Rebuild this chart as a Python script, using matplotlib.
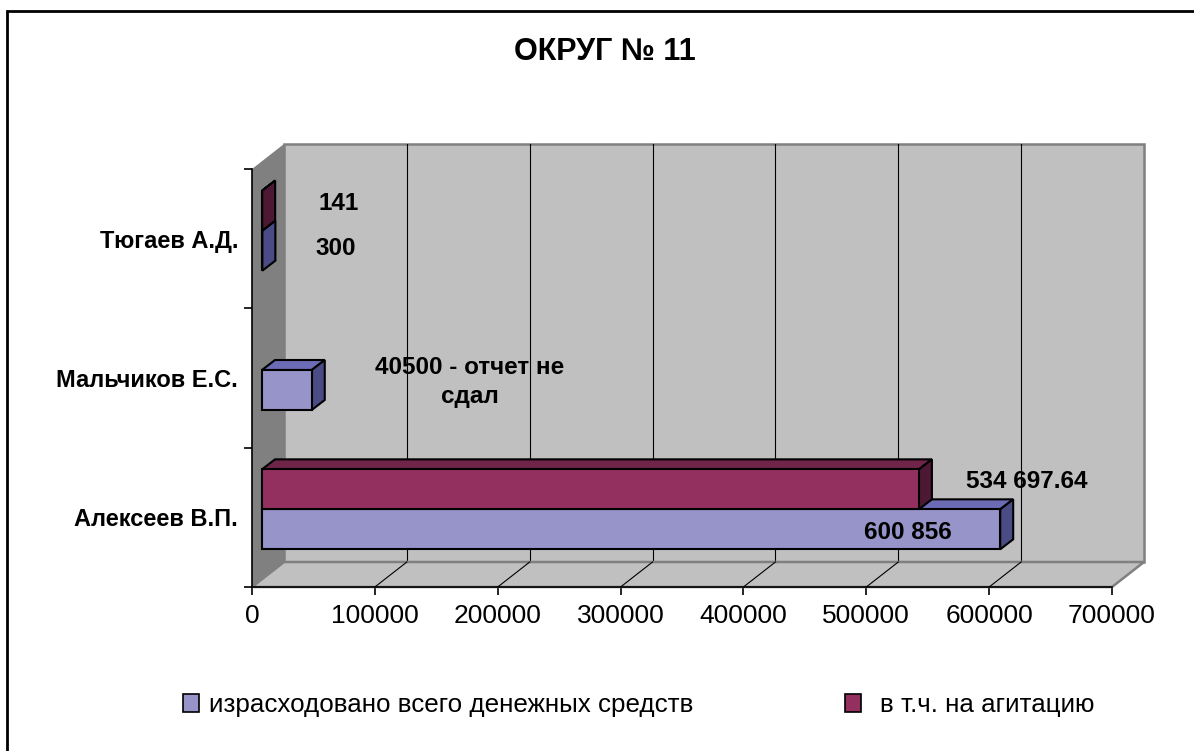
import numpy as np
import matplotlib
matplotlib.use('Agg')
import matplotlib.pyplot as plt
from matplotlib.patches import Polygon, Rectangle, Patch

plt.rcParams['font.family'] = ['Liberation Sans', 'DejaVu Sans']

# data (bottom to top)
candidates = ['Алексеев В.П.', 'Мальчиков Е.С.', 'Тюгаев А.Д.']
spent_total = [600856, 40500, 300]
spent_agit = [534697.64, np.nan, 141]
series_names = ['израсходовано всего денежных средств', 'в т.ч. на агитацию']
label_total = ['600 856', '40500 - отчет не\nсдал', '300']
label_agit = ['534 697.64', '', '141']
xticks = [0, 100000, 200000, 300000, 400000, 500000, 600000, 700000]
title = 'ОКРУГ № 11'

# look
W, H, DPI = 1194, 751, 100
DEPTH = (32, 25)          # wall depth in pixels (display, y up)
BAR_OFF = (10, 8)         # bar front plane offset
BAR_DEPTH = (13, 10)      # bar depth
BAR_H = 0.287
WALL = '#C0C0C0'
WALL_EDGE = '#808080'
SIDE = '#808080'
blue = ('#9694C9', '#6B6BB6', '#4B4B85')
red = ('#933060', '#6F2449', '#4C1833')

fig = plt.figure(figsize=(W / DPI, H / DPI), dpi=DPI)
ax = fig.add_axes([252 / W, (H - 587) / H, (1112 - 252) / W, (587 - 169) / H])
ax.set_xlim(0, 700000)
ax.set_ylim(-0.5, 2.5)
ax.patch.set_visible(False)
for s in ['top', 'right']:
    ax.spines[s].set_visible(False)
for s in ['left', 'bottom']:
    ax.spines[s].set_color('black')
    ax.spines[s].set_linewidth(1.2)
    ax.spines[s].set_zorder(20)

ax.set_xticks(xticks)
ax.set_xticklabels([str(v) for v in xticks], fontsize=19)
ax.tick_params(axis='x', length=6, width=1.2, pad=6)
ax.set_yticks([-0.5, 0.5, 1.5, 2.5])
ax.set_yticklabels([])
ax.tick_params(axis='y', which='major', length=6, width=1.2)
ax.set_yticks(range(len(candidates)), minor=True)
ax.set_yticklabels(candidates, minor=True, fontsize=17, fontweight='bold')
ax.tick_params(axis='y', which='minor', length=0, pad=10)

tr = ax.transData


def pts(xy):
    return tr.transform(xy)


def poly(verts, fc, ec='none', lw=1.0, z=1):
    ax.add_patch(Polygon(verts, closed=True, facecolor=fc, edgecolor=ec,
                         linewidth=lw, transform=None, zorder=z,
                         clip_on=False))


def seg(a, b, color='black', lw=0.8, z=2):
    ax.plot([a[0], b[0]], [a[1], b[1]], color=color, lw=lw,
            transform=None, zorder=z, clip_on=False)


x0, x1 = 0, 700000
y0, y1 = -0.5, 2.5
fl, fr = pts((x0, y0)), pts((x1, y0))
tl, trr = pts((x0, y1)), pts((x1, y1))
d = np.array(DEPTH)

# back wall
poly([fl + d, fr + d, trr + d, tl + d], WALL, WALL_EDGE, 1.8, z=1)
for v in xticks[1:-1]:
    seg(pts((v, y0)) + d, pts((v, y1)) + d, z=2)
# floor
poly([fl, fr, fr + d, fl + d], WALL, WALL_EDGE, 1.8, z=3)
for v in xticks[1:-1]:
    a = pts((v, y0))
    seg(a, a + d, z=4)
# side wall
poly([fl, tl, tl + d, fl + d], SIDE, 'none', z=5)

# bars
bo, bd = np.array(BAR_OFF), np.array(BAR_DEPTH)


def bar3d(val, ybot, cols):
    f0 = pts((0, ybot)) + bo
    f1 = pts((val, ybot)) + bo
    t0 = pts((0, ybot + BAR_H)) + bo
    t1 = pts((val, ybot + BAR_H)) + bo
    poly([t0, t1, t1 + bd, t0 + bd], cols[1], 'black', 1.5, z=10)
    poly([f1, t1, t1 + bd, f1 + bd], cols[2], 'black', 1.5, z=10)
    poly([f0, f1, t1, t0], cols[0], 'black', 1.5, z=11)


for i in range(len(candidates)):
    if not np.isnan(spent_total[i]):
        bar3d(spent_total[i], i - BAR_H, blue)
    if not np.isnan(spent_agit[i]):
        bar3d(spent_agit[i], i, red)

# data labels: offsets in image pixels (right, down) from bar end centre
lab_off_total = [(-92, 3), (158, -8), (73, -2)]
lab_off_agit = [(108, -8), (0, 0), (76, -7)]
for i in range(len(candidates)):
    for val, txt, off, yc in [(spent_total[i], label_total[i], lab_off_total[i], i - BAR_H / 2),
                              (spent_agit[i], label_agit[i], lab_off_agit[i], i + BAR_H / 2)]:
        if not txt:
            continue
        p = pts((val, yc)) + bo + np.array([off[0], -off[1]])
        ax.text(p[0], p[1], txt, transform=None, ha='center', va='center',
                fontsize=17.5, fontweight='bold', zorder=30, linespacing=1.3,
                clip_on=False)

fig.text(605 / W, 1 - 52 / H, title, ha='center', va='center',
         fontsize=22, fontweight='bold')

# legend: two entries placed separately
for name, col, xpos, gap in [(series_names[0], blue[0], 183, 0.42),
                             (series_names[1], red[0], 845, 0.75)]:
    lg = fig.legend([Patch(facecolor=col, edgecolor='black', linewidth=1.2)],
                    [name], loc='center left', bbox_to_anchor=(xpos / W, 1 - 705 / H),
                    frameon=False, fontsize=18.7, handlelength=0.6,
                    handleheight=0.7, handletextpad=gap, borderpad=0,
                    borderaxespad=0)

# outer chart frame (right/bottom edges cut off in the original)
fig.patches.append(Rectangle((7 / W, -0.1), 1.2, 1.1 - 11 / H, fill=False,
                             edgecolor='black', linewidth=2,
                             transform=fig.transFigure, figure=fig))

fig.savefig('out.png', dpi=DPI)
